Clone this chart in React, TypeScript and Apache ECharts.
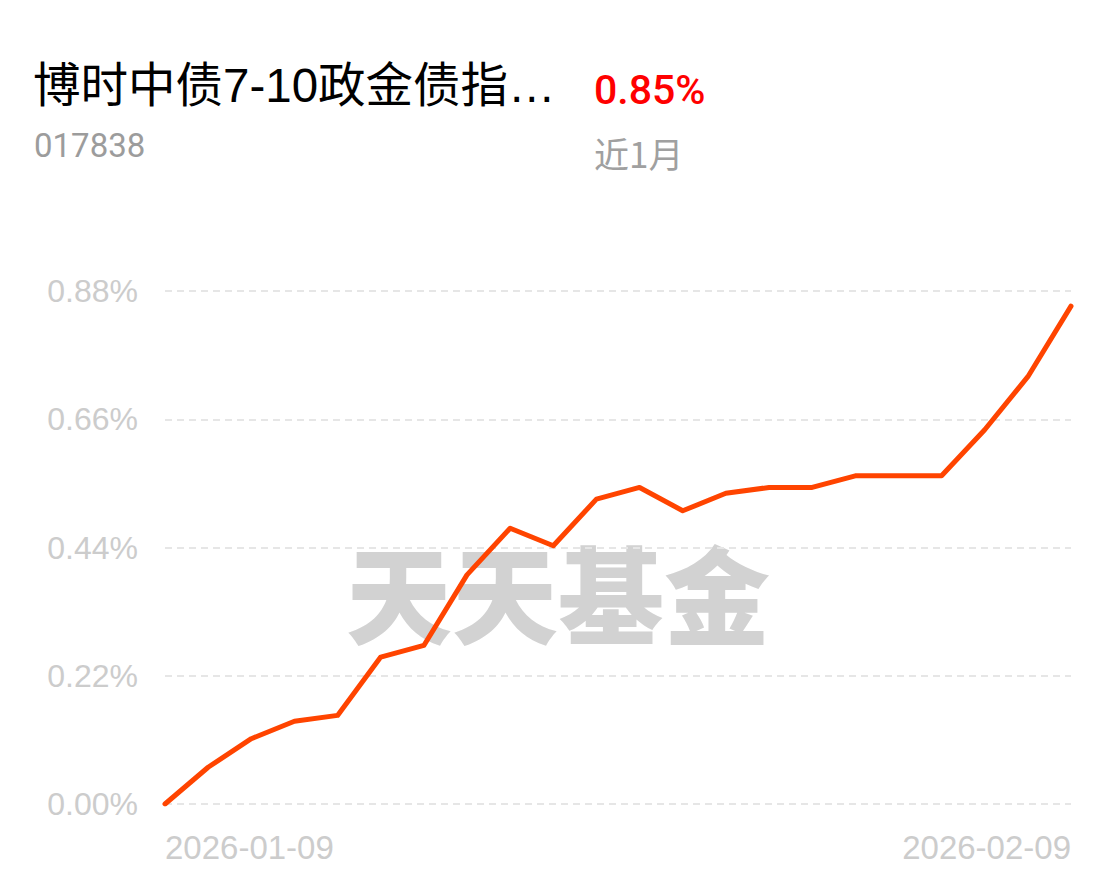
import React, { useEffect, useRef } from "react";
import * as echarts from "echarts";

const categories = [
  "2026-01-09", "2026-01-12", "2026-01-13", "2026-01-14", "2026-01-15", "2026-01-16",
  "2026-01-19", "2026-01-20", "2026-01-21", "2026-01-22", "2026-01-23",
  "2026-01-26", "2026-01-27", "2026-01-28", "2026-01-29", "2026-01-30",
  "2026-02-02", "2026-02-03", "2026-02-04", "2026-02-05", "2026-02-06", "2026-02-09",
];

const returns = [
  0.0, 0.063, 0.112, 0.142, 0.152, 0.252, 0.272, 0.393, 0.473, 0.443, 0.523,
  0.543, 0.503, 0.533, 0.543, 0.543, 0.563, 0.563, 0.563, 0.642, 0.733, 0.854,
];

const yMin = 0;
const yMax = 0.88;
const yInterval = 0.22;

const fundName = "博时中债7-10政金债指…";
const fundCode = "017838";
const periodReturn = "0.85%";
const periodLabel = "近1月";
const watermark = "天天基金";

export default function App() {
  const ref = useRef<HTMLDivElement>(null);

  useEffect(() => {
    document.body.style.margin = "0";
    if (!ref.current) return;
    const chart = echarts.init(ref.current, undefined, { renderer: "svg" });
    const latin = "'Liberation Sans', Arial, Helvetica, sans-serif";
    const cjk = "'Noto Sans CJK SC', 'Noto Sans', sans-serif";
    chart.setOption({
      animation: false,
      backgroundColor: "#ffffff",
      grid: { left: 165, right: 45, top: 291, bottom: 77, containLabel: false },
      graphic: [
        {
          type: "text",
          z: 0,
          silent: true,
          style: {
            text: watermark,
            x: 558,
            y: 590,
            align: "center",
            verticalAlign: "middle",
            font: `900 106px ${cjk}`,
            fill: "#d2d2d2",
          },
        },
        {
          type: "text",
          style: {
            text: fundName,
            x: 33,
            y: 85,
            verticalAlign: "middle",
            font: `400 47.5px 'Liberation Sans', 'Noto Sans CJK SC', sans-serif`,
            fill: "#000000",
          },
        },
        {
          type: "text",
          style: {
            text: fundCode,
            x: 34,
            y: 145,
            verticalAlign: "middle",
            font: `400 33px Roboto, ${latin}`,
            fill: "#9c9c9c",
          },
        },
        {
          type: "text",
          style: {
            text: periodReturn,
            x: 594,
            y: 90,
            verticalAlign: "middle",
            font: `500 41px Roboto, ${latin}`,
            fill: "#ff0000",
          },
        },
        {
          type: "text",
          style: {
            text: periodLabel,
            x: 594,
            y: 152,
            verticalAlign: "middle",
            font: `400 35px ${cjk}`,
            fill: "#a0a0a0",
          },
        },
      ],
      xAxis: {
        type: "category",
        data: categories,
        boundaryGap: false,
        axisLine: { show: false },
        axisTick: { show: false },
        splitLine: { show: false },
        axisLabel: {
          interval: (i: number) => i === 0 || i === categories.length - 1,
          showMinLabel: true,
          showMaxLabel: true,
          alignMinLabel: "left",
          alignMaxLabel: "right",
          margin: 27,
          color: "#cccccc",
          fontSize: 33,
          fontFamily: latin,
        },
      },
      yAxis: {
        type: "value",
        min: yMin,
        max: yMax,
        interval: yInterval,
        axisLine: { show: false },
        axisTick: { show: false },
        axisLabel: {
          margin: 27,
          color: "#cccccc",
          fontSize: 32,
          fontFamily: latin,
          formatter: (v: number) => v.toFixed(2) + "%",
        },
        splitLine: {
          show: true,
          lineStyle: { color: "#e6e6e6", width: 2, type: [7, 5] },
        },
      },
      series: [
        {
          type: "line",
          data: returns,
          showSymbol: false,
          symbol: "none",
          z: 3,
          lineStyle: { color: "#ff4400", width: 5, cap: "round", join: "round" },
          itemStyle: { color: "#ff4400" },
        },
      ],
    });
    return () => chart.dispose();
  }, []);

  return <div ref={ref} style={{ width: 1116, height: 881 }} />;
}
